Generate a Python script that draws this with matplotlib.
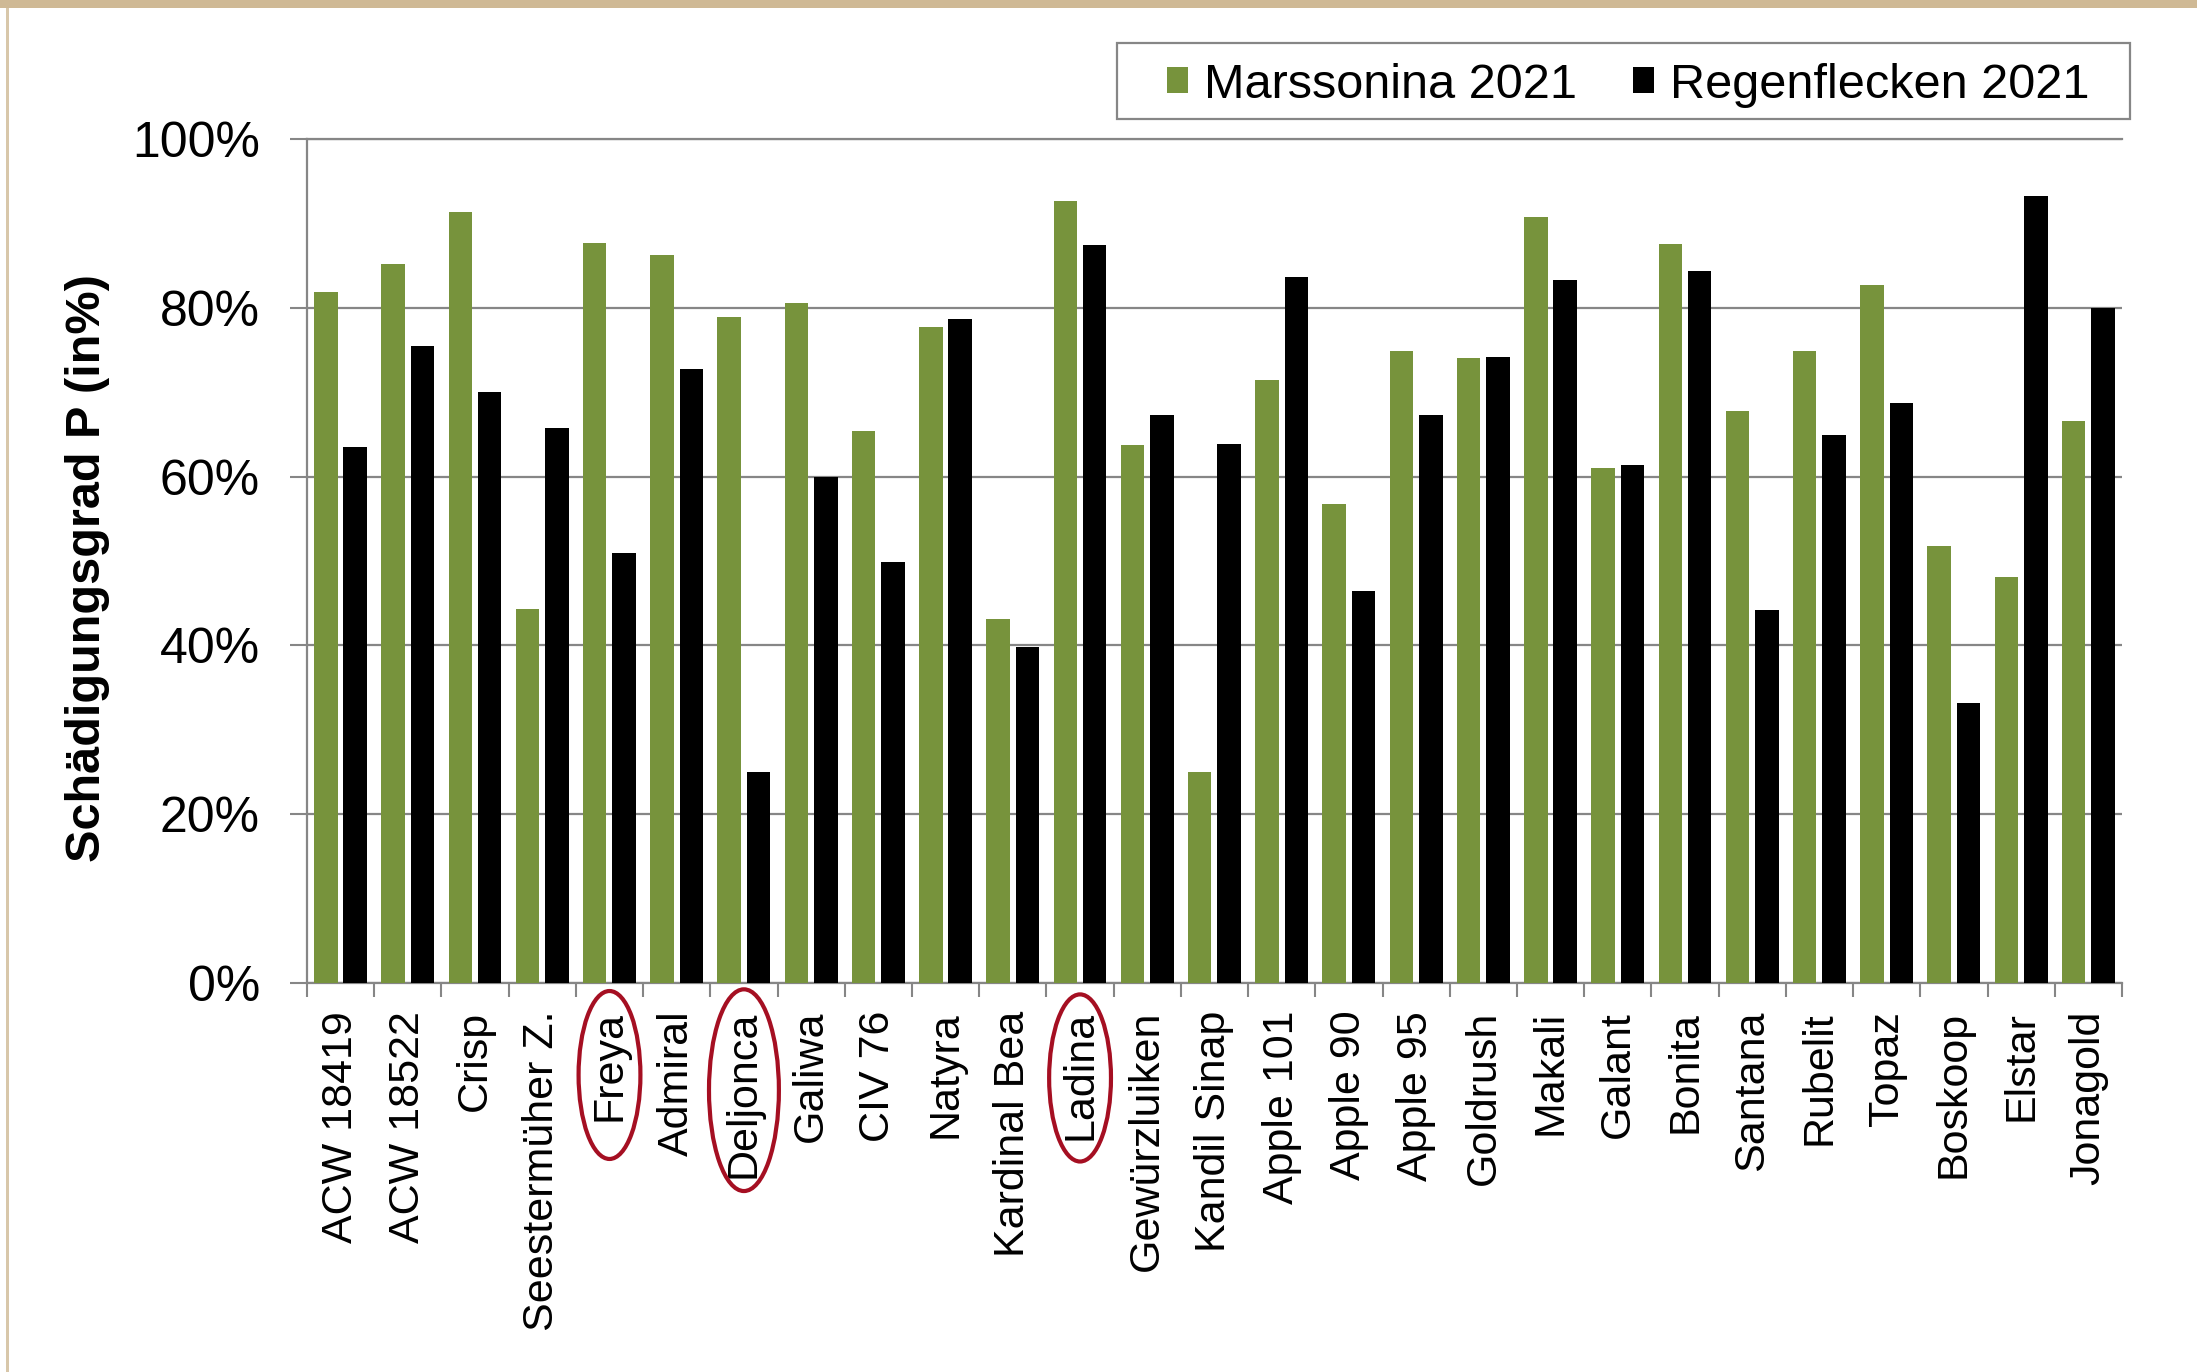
import matplotlib
matplotlib.use("Agg")
import matplotlib.pyplot as plt
import matplotlib.transforms as mtransforms
from matplotlib.patches import Ellipse, Rectangle, Patch
from matplotlib.ticker import FuncFormatter
import numpy as np

plt.rcParams['font.family'] = ['Liberation Sans', 'DejaVu Sans']

# ---------------- data ----------------
cultivars = ["ACW 18419", "ACW 18522", "Crisp", "Seestermüher Z.", "Freya", "Admiral",
             "Deljonca", "Galiwa", "CIV 76", "Natyra", "Kardinal Bea", "Ladina",
             "Gewürzluiken", "Kandil Sinap", "Apple 101", "Apple 90", "Apple 95",
             "Goldrush", "Makali", "Galant", "Bonita", "Santana", "Rubelit", "Topaz",
             "Boskoop", "Elstar", "Jonagold"]
marssonina_2021 = [81.9, 85.2, 91.4, 44.3, 87.7, 86.3, 78.9, 80.6, 65.4, 77.7, 43.1, 92.6,
                   63.8, 25.0, 71.5, 56.8, 74.9, 74.0, 90.7, 61.0, 87.6, 67.8, 74.9, 82.7,
                   51.8, 48.1, 66.6]
regenflecken_2021 = [63.5, 75.5, 70.0, 65.7, 50.9, 72.8, 25.0, 60.0, 49.9, 78.7, 39.8, 87.4,
                     67.3, 63.9, 83.7, 46.4, 67.3, 74.2, 83.3, 61.4, 84.4, 44.2, 64.9, 68.7,
                     33.2, 93.3, 80.0]
series_labels = ["Marssonina 2021", "Regenflecken 2021"]
highlighted = ["Freya", "Deljonca", "Ladina"]
y_ticks = [0, 20, 40, 60, 80, 100]
y_label = "Schädigungsgrad P (in%)"

# ---------------- style ----------------
GREEN = "#77933C"
GRAY = "#868686"
RED = "#A50F22"

W, H = 2197, 1372
fig = plt.figure(figsize=(W / 100, H / 100), dpi=100)
fig.patch.set_facecolor("white")

# decorative border (top band + left line)
fig.patches.append(Rectangle((0, 1 - 8 / H), 1, 8 / H, transform=fig.transFigure,
                             facecolor="#CFB995", edgecolor="none"))
fig.patches.append(Rectangle((6 / W, 0), 3 / W, 1 - 8 / H, transform=fig.transFigure,
                             facecolor="#D8C7AA", edgecolor="none"))

ax = fig.add_axes([307 / W, 1 - 983 / H, (2122 - 307) / W, (983 - 139) / H])

n = len(cultivars)
x = np.arange(n) + 0.5
ax.bar(x - 0.22, marssonina_2021, width=0.35, color=GREEN, zorder=3)
ax.bar(x + 0.217, regenflecken_2021, width=0.35, color="black", zorder=3)

ax.set_xlim(0, n)
ax.set_ylim(0, 100)
ax.set_yticks(y_ticks)
ax.yaxis.set_major_formatter(FuncFormatter(lambda v, p: f"{v:.0f}%"))
ax.grid(axis="y", color=GRAY, lw=1.6, zorder=0)

for s in ["right"]:
    ax.spines[s].set_visible(False)
for s in ["left", "bottom", "top"]:
    ax.spines[s].set_color(GRAY)
    ax.spines[s].set_linewidth(1.6)

ax.set_xticks(x)
ax.set_xticklabels(cultivars, rotation=90, fontsize=31, va="top", ha="center")
ax.tick_params(axis="x", which="major", length=0, pad=20)
ax.set_xticks(np.arange(n + 1), minor=True)
ax.tick_params(axis="x", which="minor", length=10, width=1.5, color=GRAY)
ax.tick_params(axis="y", length=12, width=1.5, color=GRAY, pad=22, labelsize=36)

ax.set_ylabel(y_label, fontsize=35, fontweight="bold", va="center")
ax.yaxis.set_label_coords(-0.1212, 0.492)

# red ellipses around highlighted labels
trans = mtransforms.blended_transform_factory(ax.transData, ax.transAxes)
ell_geom = {"Freya": (0.92, 0.199, -0.109), "Deljonca": (1.04, 0.239, -0.127),
            "Ladina": (0.92, 0.198, -0.1125)}
for name in highlighted:
    i = cultivars.index(name)
    w, h, cy = ell_geom[name]
    e = Ellipse((i + 0.5, cy), w, h, transform=trans, fill=False,
                edgecolor=RED, lw=3, clip_on=False, zorder=5)
    ax.add_patch(e)

# legend
handles = [Patch(facecolor=GREEN, edgecolor="none"), Patch(facecolor="black", edgecolor="none")]
fig.legend(handles, series_labels, loc="center", bbox_to_anchor=(0.7412, 0.938), ncol=2,
           frameon=False, fontsize=35, handlelength=0.43, handleheight=0.43,
           handletextpad=0.33, columnspacing=1.15, borderpad=0, borderaxespad=0)
fig.patches.append(Rectangle((1117 / W, 1 - 119 / H), 1013 / W, 76 / H,
                             transform=fig.transFigure, fill=False,
                             edgecolor=GRAY, lw=1.6))

fig.savefig("out.png", dpi=100)
